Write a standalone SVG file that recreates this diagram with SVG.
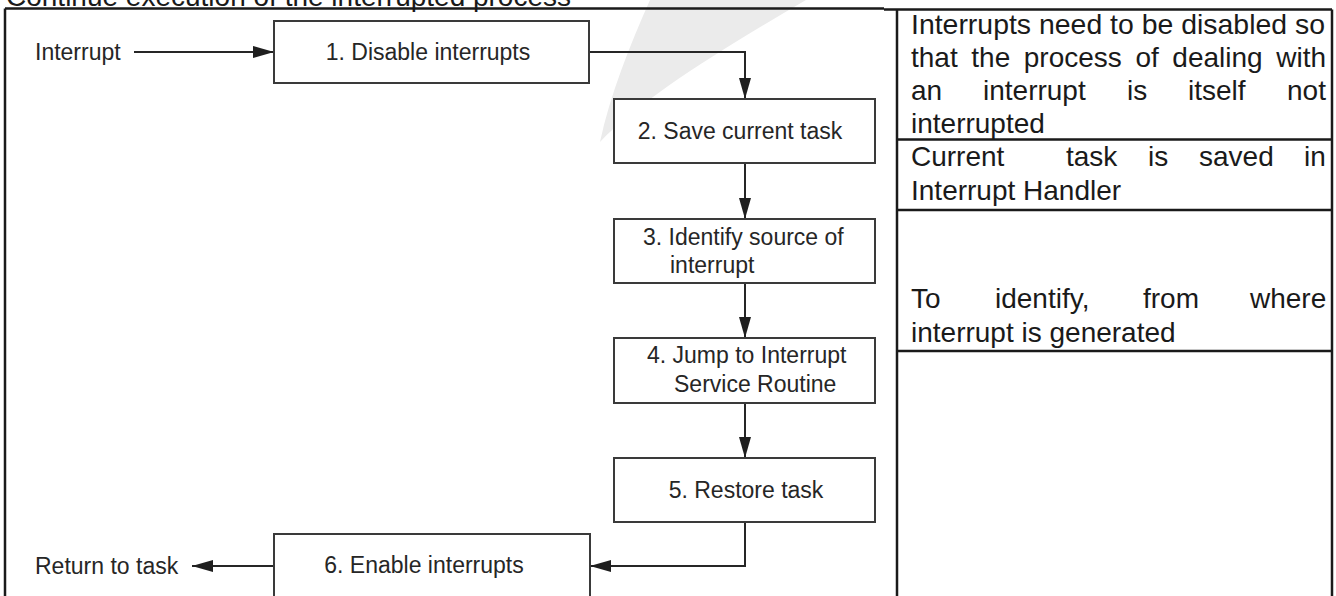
<svg xmlns="http://www.w3.org/2000/svg" width="1336" height="596" viewBox="0 0 1336 596">
<defs>
<style>
.bg{fill:#ffffff}
.wm{fill:#ebebeb}
.frame{stroke:#1a1a1a;stroke-width:2.5;fill:none}
.box{fill:#ffffff;stroke:#3a3a3a;stroke-width:2}
.lbl{font-family:"Liberation Sans",Arial,sans-serif;font-size:23px;fill:#262626}
.mid{text-anchor:middle}
.note{font-family:"Liberation Sans",Arial,sans-serif;font-size:28px;fill:#1a1a1a}
.con{stroke:#262626;stroke-width:2;fill:none}
</style>
<marker id="ah" markerUnits="userSpaceOnUse" markerWidth="22" markerHeight="14" refX="21" refY="6" orient="auto">
<path d="M0 0 L21 6 L0 12 Z" fill="#1f1f1f"/>
</marker>
</defs>
<rect class="bg" x="0" y="0" width="1336" height="596"/>
<path class="wm" d="M650 0 C630 45 610 95 600 142 C640 100 720 50 806 0 Z"/>
<text class="note" x="6" y="6">Continue execution of the interrupted process</text>
<g id="frame">
<path class="frame" d="M5 8.5 H884 M5 8.5 V600"/>
<path class="frame" d="M884 9.5 H1332 M897 9.5 V600 M1332 9.5 V600 M897 139.5 H1332 M897 210 H1332 M897 351 H1332"/>
</g>
<g id="connectors">
<path class="con" d="M134 52 H274" marker-end="url(#ah)"/>
<path class="con" d="M589 52 H745 V99" marker-end="url(#ah)"/>
<path class="con" d="M745 163 V219" marker-end="url(#ah)"/>
<path class="con" d="M745 283 V338" marker-end="url(#ah)"/>
<path class="con" d="M745 403 V458" marker-end="url(#ah)"/>
<path class="con" d="M745 522 V566 H590" marker-end="url(#ah)"/>
<path class="con" d="M274 566 H192" marker-end="url(#ah)"/>
</g>
<g id="interrupt-label"><text class="lbl" x="35" y="60">Interrupt</text></g>
<g id="box1"><rect class="box" x="274" y="21" width="315" height="62"/><text class="lbl mid" x="428" y="60">1. Disable interrupts</text></g>
<g id="box2"><rect class="box" x="614" y="99" width="261" height="64"/><text class="lbl mid" x="740" y="139">2. Save current task</text></g>
<g id="box3"><rect class="box" x="614" y="219" width="261" height="64"/><text class="lbl" x="643" y="245">3. Identify source of</text><text class="lbl" x="670" y="273">interrupt</text></g>
<g id="box4"><rect class="box" x="614" y="338" width="261" height="65"/><text class="lbl" x="647" y="363">4. Jump to Interrupt</text><text class="lbl" x="674" y="392">Service Routine</text></g>
<g id="box5"><rect class="box" x="614" y="458" width="261" height="64"/><text class="lbl mid" x="746" y="498">5. Restore task</text></g>
<g id="box6"><rect class="box" x="274" y="534" width="316" height="70"/><text class="lbl mid" x="424" y="573">6. Enable interrupts</text></g>
<g id="return-label"><text class="lbl" x="35" y="574">Return to task</text></g>
<g id="note1">
<text class="note" x="911" y="34" textLength="414" lengthAdjust="spacingAndGlyphs">Interrupts need to be disabled so</text>
<text class="note" x="911" y="67" word-spacing="5.8">that the process of dealing with</text>
<text class="note" y="100"><tspan x="911">an</tspan><tspan x="983">interrupt</tspan><tspan x="1127">is</tspan><tspan x="1188">itself</tspan><tspan x="1287">not</tspan></text>
<text class="note" x="911" y="133">interrupted</text>
</g>
<g id="note2">
<text class="note" y="166"><tspan x="911">Current</tspan><tspan x="1066">task</tspan><tspan x="1148">is</tspan><tspan x="1199">saved</tspan><tspan x="1304">in</tspan></text>
<text class="note" x="911" y="200">Interrupt Handler</text>
</g>
<g id="note3">
<text class="note" y="308"><tspan x="911">To</tspan><tspan x="995">identify,</tspan><tspan x="1143">from</tspan><tspan x="1250">where</tspan></text>
<text class="note" x="911" y="342">interrupt is generated</text>
</g>
</svg>
